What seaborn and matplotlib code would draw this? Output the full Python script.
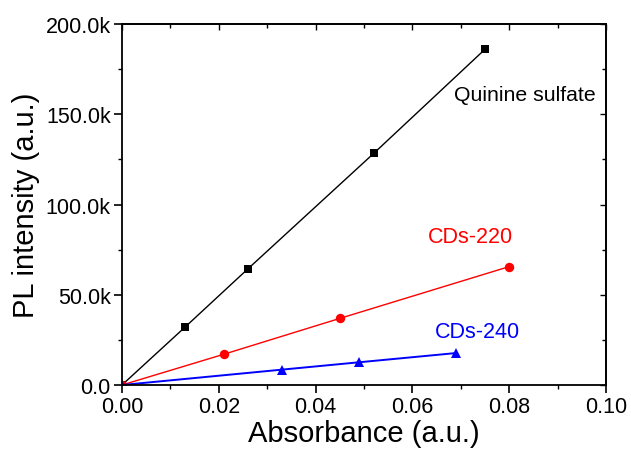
import matplotlib
matplotlib.use("Agg")
import matplotlib.pyplot as plt
import seaborn as sns
import pandas as pd
from matplotlib.ticker import MultipleLocator, FuncFormatter

sns.set_style("ticks")
plt.rcParams['font.family'] = ['Liberation Sans', 'DejaVu Sans']
plt.rcParams['text.color'] = 'black'
plt.rcParams['axes.labelcolor'] = 'black'
plt.rcParams['xtick.color'] = 'black'
plt.rcParams['ytick.color'] = 'black'

series_names = ["Quinine sulfate", "CDs-220", "CDs-240"]
qs_x = [0.0, 0.013, 0.026, 0.052, 0.075]
qs_y = [0.0, 32000, 64300, 128300, 186000]
cd220_x = [0.0, 0.021, 0.045, 0.080]
cd220_y = [0.0, 17000, 36900, 65600]
cd240_x = [0.0, 0.033, 0.049, 0.069]
cd240_y = [0.0, 8500, 12600, 17700]

colors = {"Quinine sulfate": "black", "CDs-220": "red", "CDs-240": "blue"}
markers = {"Quinine sulfate": "s", "CDs-220": "o", "CDs-240": "^"}

rows = []
for name, xs, ys in [(series_names[0], qs_x, qs_y), (series_names[1], cd220_x, cd220_y), (series_names[2], cd240_x, cd240_y)]:
    for x, y in zip(xs, ys):
        rows.append({"Absorbance": x, "PL": y, "Sample": name})
df = pd.DataFrame(rows)

fig = plt.figure(figsize=(6.31, 4.52), dpi=100)
ax = fig.add_axes([0.1933, 0.146, 0.7671, 0.7987])

sizes = {"Quinine sulfate": 6.0, "CDs-220": 6.8, "CDs-240": 7.5}
for name in series_names:
    sub = df[df["Sample"] == name]
    lw = 1.4 if name == "CDs-240" else 1.0
    sns.lineplot(data=sub, x="Absorbance", y="PL", ax=ax, color=colors[name],
                 marker=markers[name], markersize=sizes[name], markeredgewidth=0,
                 linewidth=lw, sort=False, estimator=None, legend=False)

ax.set_xlim(0, 0.10)
ax.set_ylim(0, 200000)
ax.xaxis.set_major_locator(MultipleLocator(0.02))
ax.xaxis.set_minor_locator(MultipleLocator(0.01))
ax.yaxis.set_major_locator(MultipleLocator(50000))
ax.yaxis.set_minor_locator(MultipleLocator(25000))
ax.xaxis.set_major_formatter(FuncFormatter(lambda v, p: f"{v:.2f}"))
ax.yaxis.set_major_formatter(FuncFormatter(lambda v, p: "0.0" if abs(v) < 1 else f"{v/1000:.1f}k"))

for s in ax.spines.values():
    s.set_linewidth(1.3)
    s.set_color("black")
    s.set_visible(True)

ax.tick_params(axis="both", which="major", direction="out", length=6, width=1.2,
               labelsize=15.5, colors="black", pad=2)
ax.tick_params(axis="both", which="minor", direction="out", length=3, width=1.0)

# mirrored ticks on top/right pointing inwards
axt = ax.secondary_xaxis("top")
axt.xaxis.set_major_locator(MultipleLocator(0.02))
axt.xaxis.set_minor_locator(MultipleLocator(0.01))
axt.tick_params(which="major", direction="in", length=4, width=1.0, labeltop=False)
axt.tick_params(which="minor", direction="in", length=3, width=1.0)
axr = ax.secondary_yaxis("right")
axr.yaxis.set_major_locator(MultipleLocator(50000))
axr.yaxis.set_minor_locator(MultipleLocator(25000))
axr.tick_params(which="major", direction="in", length=4, width=1.0, labelright=False)
axr.tick_params(which="minor", direction="in", length=3, width=1.0)
axt.spines["top"].set_linewidth(1.3)
axr.spines["right"].set_linewidth(1.3)

ax.set_xlabel("Absorbance (a.u.)", fontsize=21, labelpad=1, color="black")
ax.set_ylabel("PL intensity (a.u.)", fontsize=21, labelpad=4, color="black")

ax.text(0.0685, 161000, "Quinine sulfate", fontsize=15.3, color="black", va="center", ha="left")
ax.text(0.0631, 82000, "CDs-220", fontsize=15.5, color="red", va="center", ha="left")
ax.text(0.0646, 29500, "CDs-240", fontsize=15.5, color="blue", va="center", ha="left")

fig.savefig("out.png", dpi=100)
